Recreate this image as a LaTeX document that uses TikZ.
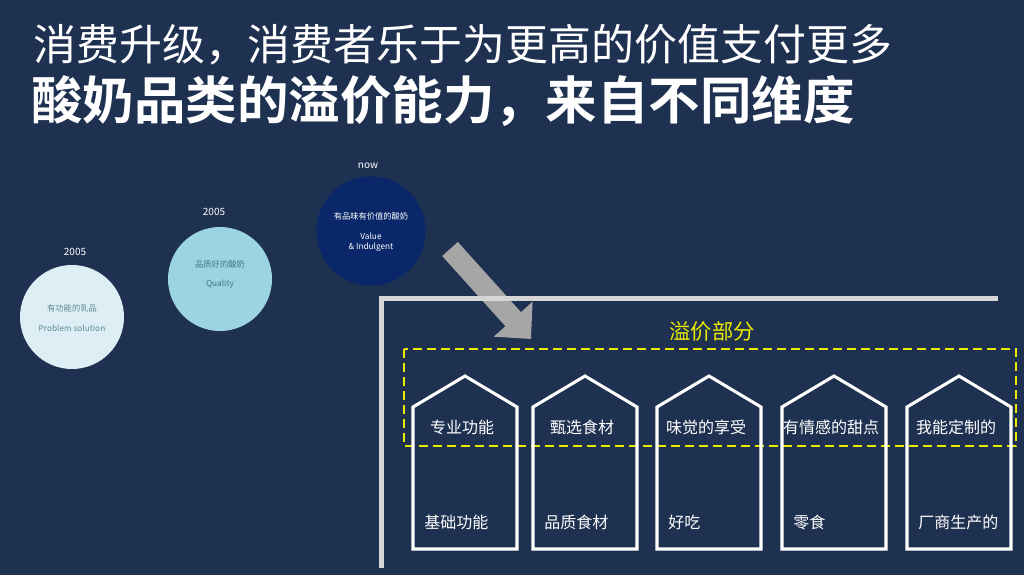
\documentclass[tikz,border=0pt]{standalone}
\usepackage{fontspec}
\setmainfont{Noto Sans CJK SC}
\newfontfamily\cjkbold{Noto Sans CJK SC Bold}
\usepackage{tikz}
\usetikzlibrary{arrows.meta, positioning, calc}
\definecolor{slidebg}{RGB}{31,49,80}
\definecolor{circpale}{RGB}{221,239,245}
\definecolor{circmid}{RGB}{157,212,226}
\definecolor{circdark}{RGB}{10,40,105}
\definecolor{txtpale}{RGB}{95,135,150}
\definecolor{txtmid}{RGB}{70,115,130}
\definecolor{framegray}{RGB}{214,214,214}
\definecolor{arrowgray}{RGB}{166,166,166}
\definecolor{hiyellow}{RGB}{235,235,0}
\tikzset{
  stage/.style={circle, minimum size=78pt, inner sep=0pt},
  yearlbl/.style={text=white, font=\fontsize{7.5}{9}\selectfont},
  circtxt/.style={font=\fontsize{6.2}{7.5}\selectfont, align=center},
  house/.style={draw=white, line width=2.3pt, line join=miter},
  housetxt/.style={text=white, font=\fontsize{12}{14}\selectfont, inner sep=0pt},
  bigarrow/.style={arrowgray, line width=15.75pt,
    -{Triangle[width=38pt, length=20pt]}}
}

\begin{document}
\begin{tikzpicture}[x=0.75pt, y=-0.75pt]
    \fill[slidebg] (0,0) rectangle (1024,575);
    \useasboundingbox (0,0) rectangle (1024,575);
    \node[anchor=west, text=white, inner sep=0pt, font=\fontsize{32.2}{36}\selectfont] (title1) at (33,45) {消费升级，消费者乐于为更高的价值支付更多};
    \node[anchor=west, text=white, inner sep=0pt, font=\cjkbold\fontsize{38.6}{44}\selectfont] (title2) at (31,101) {酸奶品类的溢价能力，来自不同维度};
    \node[stage, fill=circpale] (past) at (72,317) {};
    \node[stage, fill=circmid] (mid) at (220,279) {};
    \node[stage, fill=circdark, minimum size=82pt] (now) at (371,231) {};
    \node[yearlbl] (pastyr) at (75,252) {2005};
    \node[yearlbl] (midyr) at (214,212) {2005};
    \node[yearlbl] (nowyr) at (368,166) {now};
    \node[circtxt, text=txtpale] (pastcn) at (72,308) {有功能的乳品};
    \node[circtxt, text=txtpale] (pasten) at (72,328) {Problem solution};
    \node[circtxt, text=txtmid] (midcn) at (220,264) {品质好的酸奶};
    \node[circtxt, text=txtmid] (miden) at (220,284) {Quality};
    \node[circtxt, text=white] (nowcn) at (371,216) {有品味有价值的酸奶};
    \node[circtxt, text=white] (nowen) at (371,242) {Value\\\& Indulgent};
    \coordinate (arrstart) at (450,249);
    \coordinate (arrtip) at (531,339);
    \draw[bigarrow] (arrstart) -- (arrtip);
    \draw[framegray, line width=3.75pt] (381,568) -- (381,298) -- (998,298);
    \node[text=hiyellow, font=\fontsize{16}{18}\selectfont] (premium) at (712,331) {溢价部分};
    \draw[hiyellow, line width=1.5pt, dash pattern=on 7pt off 3.5pt] (404,349) rectangle (1016,446);
    \foreach \cx/\top/\bot/\i in {465/专业功能/基础功能/1, 585/甄选食材/品质食材/2,
        709/味觉的享受/好吃/3, 834/有情感的甜点/零食/4, 959/我能定制的/厂商生产的/5} {
      \draw[house] (\cx-52,549) -- (\cx-52,407) -- (\cx,376) -- (\cx+52,407) -- (\cx+52,549) -- cycle;
      \node[housetxt] (top\i) at (\cx-3,427) {\top};
      \node[housetxt, anchor=west] (bot\i) at (\cx-41,522) {\bot};
    }
  \end{tikzpicture}
\end{document}
